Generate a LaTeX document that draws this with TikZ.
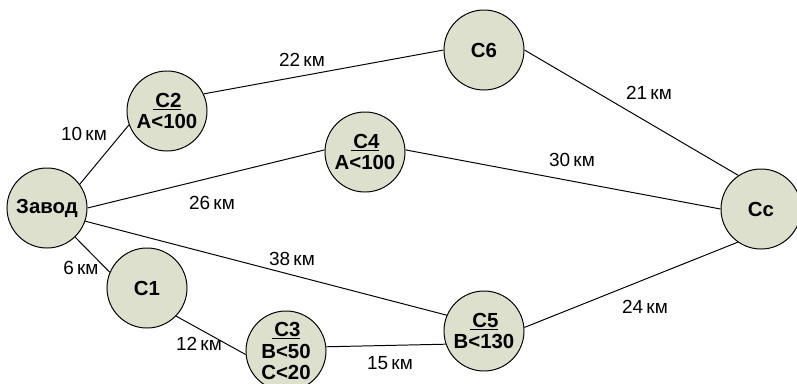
\documentclass[tikz,border=0pt]{standalone}
\usepackage{fontspec}
\setmainfont{Liberation Sans}
\usepackage{tikz}
\definecolor{sitefill}{RGB}{221,224,204}

\begin{document}
\begin{tikzpicture}[x=0.025cm, y=-0.025cm,
    site/.style={circle, draw, line width=0.7pt, fill=sitefill, minimum size=2cm,
      inner sep=0pt, align=center, font=\fontsize{14.5}{15.5}\selectfont\bfseries},
    road/.style={line width=0.7pt},
    dist/.style={font=\fontsize{13.5}{15}\selectfont}]
  \useasboundingbox (0,0) rectangle (797,383);
  % sites
  \node[site] (zavod) at (47,208) {Завод};
  \node[site] (c2) at (167,111) {\underline{\hspace{2pt}C2}\\A<100};
  \node[site] (c6) at (484,50) {C6};
  \node[site] (c4) at (365,152) {\underline{\hspace{2pt}C4}\\A<100};
  \node[site] (cc) at (761,209) {Cc};
  \node[site] (c1) at (147,288) {C1};
  \node[site] (c3) at (286,351) {\underline{\hspace{2pt}C3}\\B<50\\C<20};
  \node[site] (c5) at (484,331) {\underline{\hspace{2pt}C5}\\B<130};
  % roads
  \draw[road] (zavod.36) -- (c2.200);
  \draw[road] (zavod.0) -- (c4.177);
  \draw[road] (zavod.-19) -- (c5.157);
  \draw[road] (zavod.-46) -- (c1.157);
  \draw[road] (c1.-44) -- (c3.185);
  \draw[road] (c3.6) -- (c5.199);
  \draw[road] (c2.25) -- (c6.180);
  \draw[road] (c4.3) -- (cc.180);
  \draw[road] (c6.0) -- (cc.124);
  \draw[road] (c5.5) -- (cc.235);
  % distances
  \node[dist] (d22) at (302,60) {22\,км};
  \node[dist] (d10) at (84,134) {10\,км};
  \node[dist] (d26) at (212,203) {26\,км};
  \node[dist] (d38) at (292,259) {38\,км};
  \node[dist] (d6) at (81,268) {6\,км};
  \node[dist] (d12) at (199,344) {12\,км};
  \node[dist] (d15) at (390,363) {15\,км};
  \node[dist] (d30) at (572,160) {30\,км};
  \node[dist] (d21) at (649,93) {21\,км};
  \node[dist] (d24) at (645,307) {24\,км};
\end{tikzpicture}
\end{document}
